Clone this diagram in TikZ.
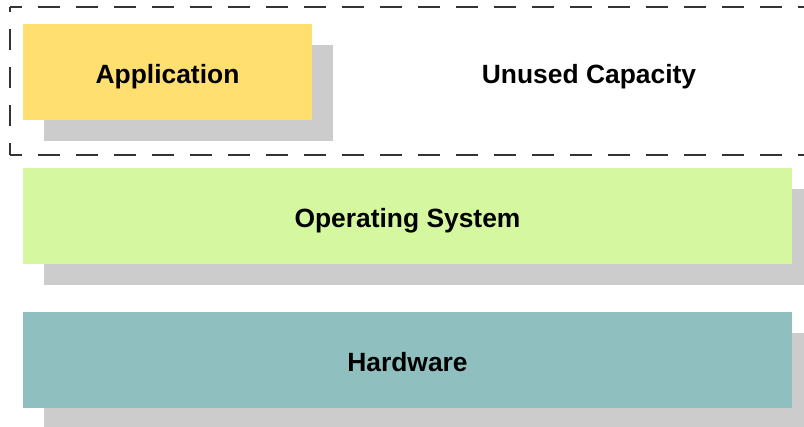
\documentclass[tikz,border=0pt]{standalone}
\usepackage{fontspec}
\setmainfont{Liberation Sans}
\definecolor{appyellow}{HTML}{FFDF6F}
\definecolor{osgreen}{HTML}{D4F7A0}
\definecolor{hwteal}{HTML}{8FBFBE}
\definecolor{shadowgray}{HTML}{CCCCCC}
\definecolor{dashgray}{HTML}{333333}
\tikzset{
  layer/.style={rectangle, inner sep=0pt, minimum height=96pt, draw=none},
  shade box/.style={layer, fill=shadowgray},
  label text/.style={font=\fontsize{26.4}{30}\selectfont\bfseries, inner sep=0pt, anchor=base},
  border/.style={draw=dashgray, line width=1.2pt, dash pattern=on 21.5pt off 16.5pt},
}
\begin{document}
\begin{tikzpicture}[x=1pt, y=-1pt]
  \useasboundingbox (0,0) rectangle (804,427);
  \fill[white] (0,0) rectangle (804,427);
  \clip (0,0) rectangle (804,427);

  % drop shadows
  \node[shade box, minimum width=289pt] (appshadow) at (188.5,93) {};
  \node[shade box, minimum width=769pt] (osshadow) at (428.5,237) {};
  \node[shade box, minimum width=769pt] (hwshadow) at (428.5,381) {};

  % layers
  \node[layer, fill=appyellow, minimum width=289pt] (app) at (167.5,72) {};
  \node[layer, fill=osgreen, minimum width=769pt] (os) at (407.5,216) {};
  \node[layer, fill=hwteal, minimum width=769pt] (hw) at (407.5,360) {};

  % labels
  \node[label text] (apptext) at (167.5,83.5) {Application};
  \node[label text] (unused) at (589,83.5) {Unused Capacity};
  \node[label text] (ostext) at (407.5,227.5) {Operating System};
  \node[label text] (hwtext) at (407.5,371.5) {Hardware};

  % dashed capacity frame
  \coordinate (ftl) at (10,7);
  \coordinate (fbl) at (10,155);
  \coordinate (ftr) at (830,7);
  \coordinate (fbr) at (830,155);
  \draw[border, dash phase=10pt] (ftl) -- (ftr);
  \draw[border, dash phase=10pt] (fbl) -- (fbr);
  \draw[border, dash phase=9.5pt] (fbl) -- (ftl);
\end{tikzpicture}
\end{document}
